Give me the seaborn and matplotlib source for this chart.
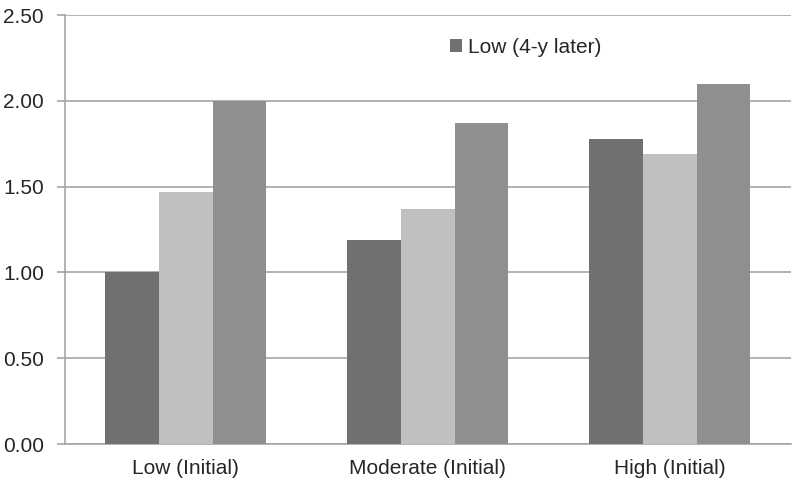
import matplotlib
matplotlib.use("Agg")
import matplotlib.pyplot as plt
import seaborn as sns
import pandas as pd
import numpy as np

categories = ["Low (Initial)", "Moderate (Initial)", "High (Initial)"]
series = ["Low (4-y later)", "Moderate (4-y later)", "High (4-y later)"]
low_later = [1.00, 1.19, 1.78]
moderate_later = [1.47, 1.37, 1.69]
high_later = [2.00, 1.87, 2.10]
yticks = [0.0, 0.5, 1.0, 1.5, 2.0, 2.5]
colors = ["#707070", "#c0c0c0", "#8f8f8f"]

rows = []
for s, vals in zip(series, [low_later, moderate_later, high_later]):
    for c, v in zip(categories, vals):
        rows.append({"cat": c, "series": s, "value": v})
df = pd.DataFrame(rows)

sns.set_style("white")
plt.rcParams["font.family"] = ["Liberation Sans", "DejaVu Sans"]

fig = plt.figure(figsize=(8, 4.91), dpi=100)
ax = fig.add_axes([0.081, 0.0957, 0.9075, 0.8733])

sns.barplot(data=df, x="cat", y="value", hue="series", order=categories,
            hue_order=series, palette=colors, width=0.665, saturation=1,
            linewidth=0, ax=ax, zorder=3)

ax.set_ylim(0, 2.5)
ax.set_xlim(-0.5, 2.5)
ax.set_yticks(yticks)
ax.set_yticklabels([f"{t:.2f}" for t in yticks], fontsize=15)
ax.yaxis.grid(True, color="#a6a6a6", linewidth=1.2, zorder=0)
ax.set_axisbelow(True)
ax.set_xlabel("")
ax.set_ylabel("")
ax.tick_params(axis="x", which="major", length=0, labelsize=15, pad=11)
ax.set_xticks([-0.5, 0.5, 1.5, 2.5], minor=True)
ax.tick_params(axis="x", which="minor", length=6, color="#a6a6a6", width=1.2)
ax.tick_params(axis="y", length=6, color="#a6a6a6", width=1.2, left=True, pad=9)
for side in ["top", "right"]:
    ax.spines[side].set_visible(False)
for side in ["left", "bottom"]:
    ax.spines[side].set_color("#a6a6a6")
    ax.spines[side].set_linewidth(1.2)

handles, labels = ax.get_legend_handles_labels()
ax.legend(handles[:1], labels[:1], loc="center", bbox_to_anchor=(0.635, 0.925),
          frameon=False, fontsize=15, handlelength=0.6, handleheight=0.6,
          handletextpad=0.3)

fig.savefig("out.png", dpi=100)
